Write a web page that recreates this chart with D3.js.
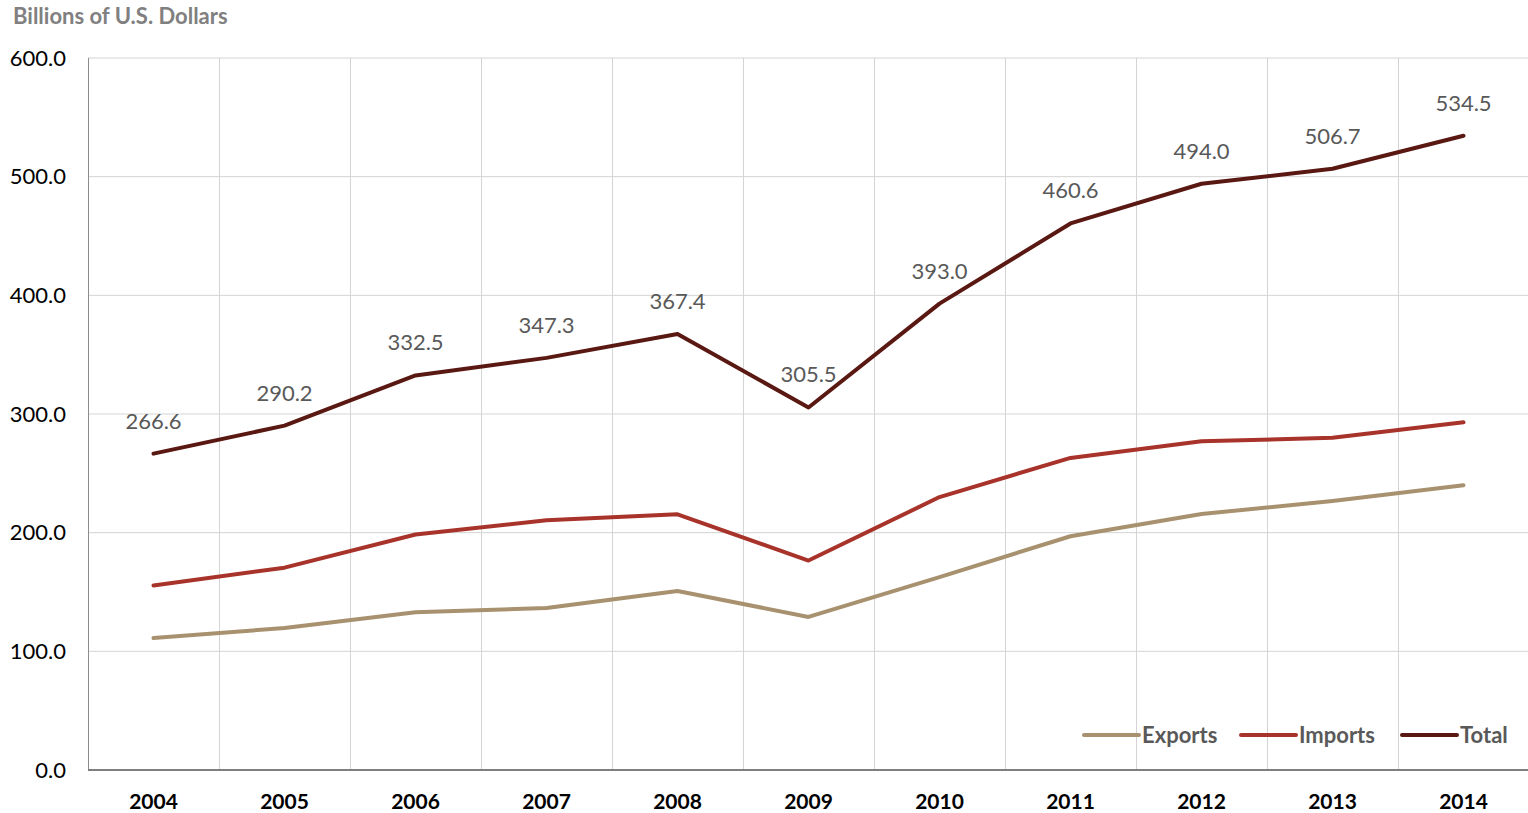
<!DOCTYPE html>
<html>
<head>
<meta charset="utf-8">
<script src="https://cdnjs.cloudflare.com/ajax/libs/d3/7.8.5/d3.min.js"></script>
<style>
  body { margin: 0; background: #fff; }
  text { font-family: Lato, "Open Sans", sans-serif; }
</style>
</head>
<body>
<div id="chart"></div>
<script>
var years = ["2004", "2005", "2006", "2007", "2008", "2009", "2010", "2011", "2012", "2013", "2014"]
var exportsVals = [111.2, 119.7, 133.0, 136.5, 150.8, 129.0, 162.6, 197.0, 215.7, 226.7, 240.0]
var importsVals = [155.4, 170.5, 198.5, 210.5, 215.5, 176.5, 230.0, 263.0, 277.0, 280.0, 293.0]
var totalVals = [266.6, 290.2, 332.5, 347.3, 367.4, 305.5, 393.0, 460.6, 494.0, 506.7, 534.5]
var yTicks = [0, 100, 200, 300, 400, 500, 600]

var series = [
	{ name: "Exports", values: exportsVals, color: "#a8916e" },
	{ name: "Imports", values: importsVals, color: "#a8332a" },
	{ name: "Total", values: totalVals, color: "#5a1812" }
]

var W = 1528, H = 813
var margin = { top: 58, left: 88, right: 0, bottom: 43 }
var width = W - margin.left - margin.right
var height = H - margin.top - margin.bottom

var svg = d3.select("#chart").append("svg")
	.attr("width", W)
	.attr("height", H)

var g = svg.append("g")
	.attr("transform", "translate(" + margin.left + "," + margin.top + ")")

var x = d3.scaleBand().domain(years).range([0, 11 * 131])
var y = d3.scaleLinear().domain([0, 600]).range([height, 0])

// horizontal gridlines
g.selectAll(".hgrid")
	.data(yTicks.filter(function(d) { return d > 0 }))
	.enter().append("line")
	.attr("x1", 0).attr("x2", width)
	.attr("y1", function(d) { return y(d) }).attr("y2", function(d) { return y(d) })
	.attr("stroke", "#d4d4d4").attr("stroke-width", 1)

// vertical gridlines at category boundaries
g.selectAll(".vgrid")
	.data(years.slice(1))
	.enter().append("line")
	.attr("x1", function(d) { return Math.round(x(d)) + 0.5 }).attr("x2", function(d) { return Math.round(x(d)) + 0.5 })
	.attr("y1", 0).attr("y2", height)
	.attr("stroke", "#d4d4d4").attr("stroke-width", 1)

// axes lines
g.append("line").attr("x1", 0.5).attr("x2", 0.5).attr("y1", 0).attr("y2", height)
	.attr("stroke", "#8c8c8c").attr("stroke-width", 1)
g.append("line").attr("x1", 0).attr("x2", width).attr("y1", height).attr("y2", height)
	.attr("stroke", "#7f7f7f").attr("stroke-width", 2)

// y labels
g.selectAll(".ylab")
	.data(yTicks)
	.enter().append("text")
	.attr("x", -22)
	.attr("y", function(d) { return y(d) })
	.attr("dy", "0.35em")
	.attr("text-anchor", "end")
	.attr("font-size", 22)
	.attr("fill", "#000")
	.text(function(d) { return d3.format(".1f")(d) })

// x labels
g.selectAll(".xlab")
	.data(years)
	.enter().append("text")
	.attr("x", function(d) { return x(d) + x.bandwidth() / 2 })
	.attr("y", height + 39)
	.attr("text-anchor", "middle")
	.attr("font-size", 21)
	.attr("font-weight", "bold")
	.attr("fill", "#000")
	.text(function(d) { return d })

// title
svg.append("text")
	.attr("x", 13).attr("y", 24)
	.attr("font-size", 22)
	.attr("font-weight", "bold")
	.attr("fill", "#808080")
	.text("Billions of U.S. Dollars")

var line = d3.line()
	.x(function(d, i) { return x(years[i]) + x.bandwidth() / 2 })
	.y(function(d) { return y(d) })

series.forEach(function(s) {
	g.append("path")
		.datum(s.values)
		.attr("d", line)
		.attr("fill", "none")
		.attr("stroke", s.color)
		.attr("stroke-width", 4)
		.attr("stroke-linejoin", "round")
		.attr("stroke-linecap", "round")
})

// data labels for total
g.selectAll(".dlab")
	.data(totalVals)
	.enter().append("text")
	.attr("x", function(d, i) { return x(years[i]) + x.bandwidth() / 2 })
	.attr("y", function(d) { return y(d) - 25 })
	.attr("text-anchor", "middle")
	.attr("font-size", 22)
	.attr("fill", "#595959")
	.text(function(d) { return d3.format(".1f")(d) })

// legend
var legendX = [1084, 1241, 1402]
var legend = svg.selectAll(".legend")
	.data(series)
	.enter().append("g")
	.attr("transform", function(d, i) { return "translate(" + legendX[i] + ",735)" })
legend.append("line")
	.attr("x1", 0).attr("x2", 55).attr("y1", 0).attr("y2", 0)
	.attr("stroke", function(d) { return d.color })
	.attr("stroke-width", 4)
	.attr("stroke-linecap", "round")
legend.append("text")
	.attr("x", 58).attr("y", 0).attr("dy", "0.35em")
	.attr("font-size", 22)
	.attr("font-weight", "bold")
	.attr("fill", "#595959")
	.text(function(d) { return d.name })
</script>
</body>
</html>
